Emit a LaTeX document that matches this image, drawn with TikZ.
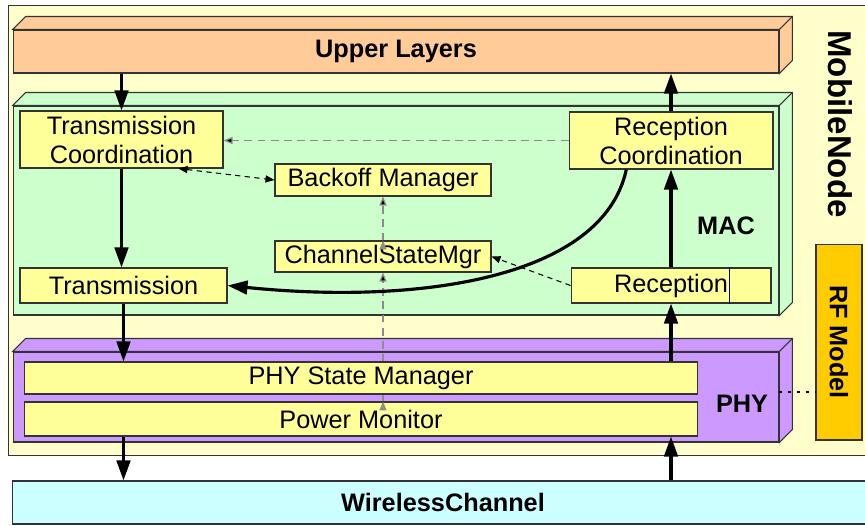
\documentclass[tikz,border=0pt]{standalone}
\usepackage{fontspec}
\setmainfont{Liberation Sans}
\usetikzlibrary{arrows.meta, positioning}

\definecolor{nodebg}{HTML}{FFFFCC}
\definecolor{upperbg}{HTML}{FFCC99}
\definecolor{macbg}{HTML}{CCFFCC}
\definecolor{phybg}{HTML}{CC99FF}
\definecolor{blockbg}{HTML}{FFFF99}
\definecolor{chanbg}{HTML}{CCFFFF}
\definecolor{rfbg}{HTML}{FFCC00}

\tikzset{
  layer/.style={draw=black!80, line width=0.6pt, rectangle, inner sep=0pt},
  block/.style={layer, fill=blockbg, align=center},
  boldtext/.style={font=\fontsize{14.4}{16.5}\selectfont\bfseries},
  flow/.style={-{Triangle[length=4mm,width=2.7mm]}, line width=1.8pt},
  hint/.style={-{Triangle[length=1.8mm,width=1.4mm]}, line width=0.6pt, dash pattern=on 3pt off 2.5pt},
  greyhint/.style={hint, draw=black!45, line width=0.7pt, dash pattern=on 4.5pt off 3pt}
}

% top and side face of a layer box
\newcommand{\slab}[2]{%
  \draw[layer, fill=#2] (#1.north west) -- ++(13,-13) -- ([shift={(13,-13)}]#1.north east)
    -- ([shift={(13,-13)}]#1.south east) -- (#1.south east) -- (#1.north east) -- cycle;
  \draw[layer] (#1.north east) -- ++(13,-13);
}

\begin{document}
\begin{tikzpicture}[
        x=0.02cm, y=-0.02cm,
        font=\fontsize{14.4}{16.5}\selectfont
        ]
        \useasboundingbox (0,0) rectangle (865,525);

        \node[layer, fill=nodebg, minimum width=17.44cm, minimum height=9.02cm] (mobile) at (444,230.5) {};
        \node[layer, fill=chanbg, boldtext, minimum width=17.24cm, minimum height=0.86cm] (wireless) at (443,502.5) {WirelessChannel};

        \node[layer, fill=upperbg, boldtext, minimum width=15.32cm, minimum height=0.86cm] (upper) at (396,51.5) {Upper Layers};
        \slab{upper}{upperbg}
        \node[layer, fill=macbg, minimum width=15.32cm, minimum height=4.18cm] (mac) at (396,210.5) {};
        \slab{mac}{macbg}
        \node[layer, fill=phybg, minimum width=15.32cm, minimum height=1.8cm] (phy) at (396,397) {};
        \slab{phy}{phybg}

        \node[boldtext, rotate=-90, font=\fontsize{18.8}{22}\selectfont\bfseries] (mobile_label) at (840,124) {MobileNode};
        \node[boldtext] (mac_label) at (726,226) {MAC};
        \node[boldtext] (phy_label) at (742,404) {PHY};
        \node[layer, fill=rfbg, boldtext, rotate=-90, minimum width=3.92cm, minimum height=0.92cm] (rf) at (839,342) {RF Model};

        \node[block, minimum width=4.06cm, minimum height=1.14cm] (tx_coord) at (121.5,139.5) {Transmission\\Coordination};
        \node[block, minimum width=4.08cm, minimum height=1.14cm] (rx_coord) at (671,140.5) {Reception\\Coordination};
        \node[block, minimum width=4.32cm, minimum height=0.64cm] (backoff) at (383,180) {Backoff Manager};
        \node[block, minimum width=4.32cm, minimum height=0.62cm] (chan_state) at (383,256.5) {ChannelStateMgr};
        \node[block, minimum width=4.14cm, minimum height=0.7cm] (tx) at (123.5,285.5) {Transmission};
        \node[block, minimum width=4.0cm, minimum height=0.7cm] (rx) at (671,285.5) {Reception};
        \draw[line width=0.5pt, draw=black!70!blue] ([xshift=1.16cm]rx.north) -- ([xshift=1.16cm]rx.south);

        \node[block, minimum width=13.48cm, minimum height=0.68cm] (power) at (361,419) {Power Monitor};
        \path[greyhint] (chan_state.south |- power.north) edge (chan_state.south);
        \node[block, minimum width=13.48cm, minimum height=0.64cm] (phy_state) at (361,378) {PHY State Manager};

        \path[flow] (tx_coord.north |- upper.south) edge (tx_coord.north)
        (tx_coord.south) edge (tx_coord.south |- tx.north)
        (tx.south) edge (tx.south |- phy_state.north)
        (tx.south |- power.south) edge (tx.south |- wireless.north)
        (rx.south |- wireless.north) edge (rx.south |- power.south)
        (rx.south |- phy_state.north) edge (rx.south)
        (rx.north) edge (rx_coord.south)
        (rx_coord.north) edge (rx_coord.north |- upper.south);
        \draw[flow] (rx_coord.213) .. controls (603,278) and (420,305) .. (tx.east);

        \path[greyhint] (rx_coord.west) edge (rx_coord.west -| tx_coord.east)
        (chan_state.north) edge (backoff.south);
        \path[hint] (rx.west) edge (chan_state.east);
        \draw[hint, {Triangle[length=1.8mm,width=1.4mm]}-{Triangle[length=1.8mm,width=1.4mm]}] (tx_coord.-27) -- (backoff.west);

        \draw[line width=1.6pt, dash pattern=on 1.6pt off 3.4pt] ([yshift=0.1cm]phy.east) -- ([yshift=0.1cm]phy.east -| rf.south);
      \end{tikzpicture}
\end{document}
